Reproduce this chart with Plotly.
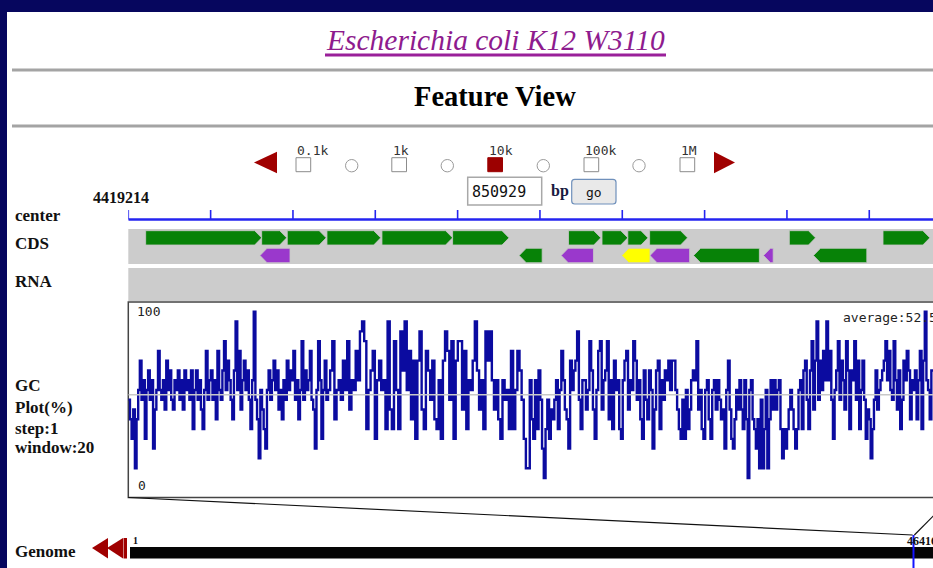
import plotly.graph_objects as go

W, H = 933, 568

# ---------------- data ----------------
view_start = 4419214
view_len = 10000
genome_len = 4641652
position_input = "850929"
zoom_labels = ["0.1k", "1k", "10k", "100k", "1M"]
zoom_selected = 2
gc_average = 52.5
track_labels = ["center", "CDS", "RNA"]
gc_track_label = ["GC", "Plot(%)", "step:1", "window:20"]

# CDS, forward strand (row 1)
cds_fwd_start = [4419425, 4420834, 4421145, 4421627, 4422295, 4423153, 4424561, 4424968, 4425281, 4425546, 4427243, 4428381]
cds_fwd_end = [4420834, 4421138, 4421618, 4422280, 4423153, 4423838, 4424953, 4425281, 4425526, 4426007, 4427561, 4428950]
cds_fwd_color = ["green", "green", "green", "green", "green", "green", "green", "green", "green", "green", "green", "green"]
# CDS, reverse strand (row 2)
cds_rev_start = [4420814, 4423962, 4424472, 4425208, 4425551, 4426080, 4426929, 4427536]
cds_rev_end = [4421178, 4424241, 4424864, 4425551, 4426032, 4426879, 4427047, 4428184]
cds_rev_color = ["purple", "green", "purple", "yellow", "purple", "green", "purple", "green"]

# GC % (window 20), four consecutive stretches
gc_segment_edges = [4419214, 4421640, 4424069, 4426498, 4428988]
gc_seg1 = [50, 40, 30, 45, 15, 40, 55, 70, 50, 60, 30, 55, 65, 50, 60, 25, 45, 55, 75, 55,
           50, 60, 45, 70, 55, 65, 50, 45, 60, 55, 65, 50, 60, 45, 65, 55, 60, 50, 65, 35,
           55, 65, 50, 60, 45, 35, 55, 75, 50, 60, 65, 50, 60, 40, 75, 55, 50, 65, 80, 55,
           70, 60, 50, 40, 65, 90, 55, 75, 45, 60, 70, 55, 65, 50, 35, 60, 95, 50, 40, 20,
           55, 45, 35, 25, 55, 65, 50, 60, 70, 55, 65, 45, 55, 40, 60, 50, 70, 55, 65, 60,
           75, 50, 60, 40, 55, 80, 50, 65, 55, 60, 75, 50, 45, 25, 55, 80, 60, 30, 55, 70, 50]
gc_seg2 = [55, 65, 80, 40, 55, 60, 50, 70, 55, 80, 45, 60, 55, 75, 60, 85, 90, 80, 35, 55,
           65, 75, 30, 60, 70, 55, 60, 35, 90, 45, 35, 80, 55, 35, 85, 65, 90, 55, 75, 40,
           70, 30, 70, 85, 45, 35, 75, 65, 50, 70, 40, 35, 60, 30, 70, 85, 75, 50, 80, 30,
           70, 80, 80, 45, 75, 35, 60, 55, 70, 90, 65, 45, 60, 35, 85, 70, 85, 60, 45, 60,
           40, 30, 60, 50, 55, 35, 75, 35, 55, 75, 65, 50, 30, 15]
gc_seg3 = [15, 60, 40, 30, 60, 35, 65, 50, 25, 10, 35, 50, 30, 45, 40, 50, 60, 35, 55, 75,
           60, 45, 40, 25, 70, 55, 65, 70, 85, 50, 35, 60, 60, 45, 55, 80, 65, 45, 30, 55,
           75, 80, 45, 60, 65, 80, 40, 60, 35, 70, 55, 60, 35, 30, 60, 70, 75, 45, 60, 55,
           80, 70, 50, 60, 40, 30, 65, 50, 40, 65, 55, 25, 45, 65, 70, 35, 60, 50, 65, 60,
           70, 55, 70, 70, 55, 45, 35, 30, 50, 30, 55, 35, 45, 60, 65, 60, 80, 45, 55, 35,
           30, 55, 60, 40, 30, 55, 60, 45, 60, 50, 40, 45, 25, 55]
gc_seg4 = [70, 45, 30, 25, 40, 55, 45, 60, 45, 35, 60, 40, 10, 55, 60, 40, 35, 25, 40, 15,
           50, 15, 35, 55, 15, 40, 60, 45, 60, 45, 55, 60, 35, 20, 35, 25, 35, 45, 55, 45,
           35, 25, 35, 55, 60, 35, 65, 70, 50, 35, 65, 80, 45, 70, 90, 50, 70, 55, 75, 60,
           90, 60, 75, 50, 30, 55, 65, 80, 50, 70, 60, 45, 80, 65, 35, 65, 60, 80, 50, 70,
           35, 55, 70, 50, 30, 45, 40, 20, 35, 50, 65, 45, 55, 60, 65, 70, 80, 60, 75, 55,
           50, 80, 60, 45, 65, 35, 50, 70, 60, 75, 65, 40, 60, 55, 65, 40, 60, 75, 35, 70,
           95, 60, 55, 40, 65]

# ---------------- layout geometry (pixels) ----------------
SERIF = "Liberation Serif, Times New Roman, serif"
MONO = "DejaVu Sans Mono, monospace"
ruler_px0 = 128.3
px_per_bp = 823.3 / view_len
view_end_vis = view_start + (W - ruler_px0) / px_per_bp
gen_px0, gen_px1 = 130.0, 952.0


def px(x):
    return x / W


def py(y):
    return 1 - y / H


def gen_x(pos):
    return gen_px0 + pos / genome_len * (gen_px1 - gen_px0)


shapes = []


def rect(x0, y0, x1, y1, fill, line="rgba(0,0,0,0)", lw=0, layer="below"):
    shapes.append(dict(type="rect", xref="paper", yref="paper", x0=px(x0), x1=px(x1),
                       y0=py(y0), y1=py(y1), fillcolor=fill,
                       line=dict(color=line, width=lw), layer=layer))


def line(x0, y0, x1, y1, color, lw, layer="below"):
    shapes.append(dict(type="line", xref="paper", yref="paper", x0=px(x0), x1=px(x1),
                       y0=py(y0), y1=py(y1), line=dict(color=color, width=lw), layer=layer))


def poly(points, fill, layer="below"):
    d = "M " + " L ".join(f"{px(a):.5f},{py(b):.5f}" for a, b in points) + " Z"
    shapes.append(dict(type="path", xref="paper", yref="paper", path=d, fillcolor=fill,
                       line=dict(width=0), layer=layer))


def circle(cx, cy, r, color):
    shapes.append(dict(type="circle", xref="paper", yref="paper", x0=px(cx - r), x1=px(cx + r),
                       y0=py(cy + r), y1=py(cy - r), fillcolor="white",
                       line=dict(color=color, width=1), layer="below"))


annotations = []


def text(x, y, s, size, family=SERIF, color="#111111", anchor="left"):
    annotations.append(dict(xref="paper", yref="paper", x=px(x), y=py(y), text=s,
                            showarrow=False, xanchor=anchor, yanchor="middle",
                            font=dict(family=family, size=size, color=color)))


# white page panel
rect(7, 12, W, H, "white")

# title + rules
text(495.5, 40, "<i>Escherichia coli K12 W3110</i>", 29.5, color="#8e1b8e", anchor="center")
line(325, 55, 666, 55, "#9a209a", 3)
line(12, 70, W, 70, "#a4a4a4", 3)
text(495.5, 96, "<b>Feature View</b>", 28.5, color="#000000", anchor="center")
line(12, 126, W, 126, "#a4a4a4", 3)

# zoom selector
poly([(254, 162.5), (277, 151.7), (277, 173.3)], "#a00000")
poly([(735, 162.5), (714, 151.7), (714, 173.3)], "#a00000")
sq_left = [296.0, 391.8, 487.8, 584.0, 680.0]
for i, lab in enumerate(zoom_labels):
    x0 = sq_left[i]
    if i == zoom_selected:
        rect(x0, 157.7, x0 + 14.7, 171.7, "#9c0000", "#9c0000", 1)
    else:
        rect(x0, 157.7, x0 + 14.7, 171.7, "white", "#8c8c8c", 1)
    text(x0 - 1, 150, lab, 13, MONO, "#333333")
for cx in [351.7, 447.3, 543.3, 639.0]:
    circle(cx, 165.7, 6.2, "#9a9a9a")

# position input + go button
rect(467.7, 177.3, 541.7, 205, "white", "#a8a8a8", 1.5)
text(470, 191.5, position_input, 15, MONO, "#111111")
text(549, 190.5, "<b>bp</b>", 16, SERIF, "#1a1a40")
r = 3
bx0, by0, bx1, by1 = 571.7, 179.3, 616.0, 204.0
shapes.append(dict(type="path", xref="paper", yref="paper", layer="below",
                   path=(f"M {px(bx0 + r)},{py(by0)} L {px(bx1 - r)},{py(by0)} Q {px(bx1)},{py(by0)} {px(bx1)},{py(by0 + r)} "
                         f"L {px(bx1)},{py(by1 - r)} Q {px(bx1)},{py(by1)} {px(bx1 - r)},{py(by1)} "
                         f"L {px(bx0 + r)},{py(by1)} Q {px(bx0)},{py(by1)} {px(bx0)},{py(by1 - r)} "
                         f"L {px(bx0)},{py(by0 + r)} Q {px(bx0)},{py(by0)} {px(bx0 + r)},{py(by0)} Z"),
                   fillcolor="#e9e9e9", line=dict(color="#6f90bb", width=1.2)))
text(594, 192, "go", 13, MONO, "#111111", anchor="center")

# left coordinate + labels
text(90.7, 197.7, f"<b>{view_start}</b>", 16)
for lab, yy in zip(track_labels, [215.7, 243.7, 281.7]):
    text(13, yy, f"<b>{lab}</b>", 17)
for lab, yy in zip(gc_track_label, [385, 407, 428, 448]):
    text(13, yy, f"<b>{lab}</b>", 17)
text(13, 551, "<b>Genome</b>", 17)

# tracks backgrounds
rect(ruler_px0, 229, W, 264, "#cccccc")
rect(ruler_px0, 268, W, 301, "#cccccc")
rect(ruler_px0, 302, 955, 497.5, "white", "#444444", 1.5)

# GC labels
text(135.3, 311, "100", 13, MONO, "#222222")
text(136.3, 485.7, "0", 13, MONO, "#222222")
text(841.3, 317.3, f"average:{gc_average}", 13, MONO, "#222222")

# genome panel
poly([(92, 548), (108, 538), (108, 558.5)], "#a00000")
poly([(107, 548), (123, 538), (123, 558.5)], "#a00000")
rect(123.5, 538, 127, 558.5, "#a00000")
text(131, 540.5, "<b>1</b>", 10)
text(905, 541, f"<b>{genome_len}</b>", 12)

# zoom connector lines (from view window to its place on the genome)
line(ruler_px0, 497.5, gen_x(view_start), 535, "#111111", 1.2, layer="above")
line(ruler_px0 + view_len * px_per_bp, 497.5, gen_x(view_start + view_len), 535, "#111111", 1.2, layer="above")

# ---------------- traces ----------------
fig = go.Figure()

# GC line
gx, gyv = [], []
segs = [gc_seg1, gc_seg2, gc_seg3, gc_seg4]
for k, seg in enumerate(segs):
    a, b = gc_segment_edges[k], gc_segment_edges[k + 1]
    n = len(seg)
    for i, v in enumerate(seg):
        gx.append(a + (b - a) * i / n)
        gyv.append(v)
gx.append(gc_segment_edges[-1])
gyv.append(gc_seg4[-1])
fig.add_trace(go.Scatter(x=gx, y=gyv, mode="lines", line=dict(color="#0b0ba0", width=2.4, shape="hv"),
                         xaxis="x", yaxis="y", hoverinfo="skip", showlegend=False))
fig.add_trace(go.Scatter(x=[view_start, view_start + view_len], y=[gc_average, gc_average], mode="lines",
                         line=dict(color="#c8c8c8", width=1.5), xaxis="x", yaxis="y",
                         hoverinfo="skip", showlegend=False))

# ruler
fig.add_trace(go.Scatter(x=[view_start, view_start + view_len], y=[219.5, 219.5], mode="lines",
                         line=dict(color="#2424f0", width=2.5), xaxis="x", yaxis="y2",
                         hoverinfo="skip", showlegend=False))
tx, ty = [], []
for k in range(0, view_len + 1, 1000):
    tx += [view_start + k, view_start + k, None]
    ty += [219.5, 210, None]
fig.add_trace(go.Scatter(x=tx, y=ty, mode="lines", line=dict(color="#2424f0", width=1.6),
                         xaxis="x", yaxis="y2", hoverinfo="skip", showlegend=False))

# CDS arrows
COLORS = {"green": "#078207", "purple": "#9a38cc", "yellow": "#ffff00"}
HEAD = 85


def add_arrows(starts, ends, colors, strand, y0, y1):
    for cname in ["green", "purple", "yellow"]:
        xs, ys = [], []
        for s, e, c in zip(starts, ends, colors):
            if c != cname:
                continue
            h = min(HEAD, e - s)
            ym = (y0 + y1) / 2
            if strand > 0:
                xs += [s, e - h, e, e - h, s, s, None]
            else:
                xs += [e, s + h, s, s + h, e, e, None]
            ys += [y0, y0, ym, y1, y1, y0, None]
        if xs:
            fig.add_trace(go.Scatter(x=xs, y=ys, mode="lines", fill="toself",
                                     fillcolor=COLORS[cname],
                                     line=dict(color="#c9c9c9", width=0.8),
                                     xaxis="x", yaxis="y2", hoverinfo="skip", showlegend=False))


add_arrows(cds_fwd_start, cds_fwd_end, cds_fwd_color, 1, 230.7, 245.0)
add_arrows(cds_rev_start, cds_rev_end, cds_rev_color, -1, 248.3, 262.7)

# genome bar + current position marker
fig.add_trace(go.Scatter(x=[0, genome_len, genome_len, 0, 0], y=[547, 547, 558.5, 558.5, 547],
                         mode="lines", fill="toself", fillcolor="#050505", line=dict(width=0),
                         xaxis="x2", yaxis="y2", hoverinfo="skip", showlegend=False))
center_pos = view_start + view_len // 2
fig.add_trace(go.Scatter(x=[center_pos, center_pos], y=[535, H], mode="lines",
                         line=dict(color="#1414ff", width=2), xaxis="x2", yaxis="y2",
                         hoverinfo="skip", showlegend=False))

hidden = dict(visible=False, showgrid=False, zeroline=False, fixedrange=True)
fig.update_layout(
    width=W, height=H, margin=dict(l=0, r=0, t=0, b=0, pad=0),
    paper_bgcolor="#06065e", plot_bgcolor="rgba(0,0,0,0)",
    xaxis=dict(domain=[ruler_px0 / W, 1], range=[view_start, view_end_vis], anchor="y", **hidden),
    yaxis=dict(domain=[py(497.5), py(302)], range=[0, 100], anchor="x", **hidden),
    yaxis2=dict(domain=[0, 1], range=[H, 0], anchor="x", **hidden),
    xaxis2=dict(domain=[gen_px0 / W, 1],
                range=[0, genome_len * (W - gen_px0) / (gen_px1 - gen_px0)], anchor="y2", **hidden),
    shapes=shapes, annotations=annotations, showlegend=False,
)

fig.write_html("out.html", config={"displayModeBar": False},
               post_script="document.body.style.margin='0';document.body.style.overflow='hidden';")
